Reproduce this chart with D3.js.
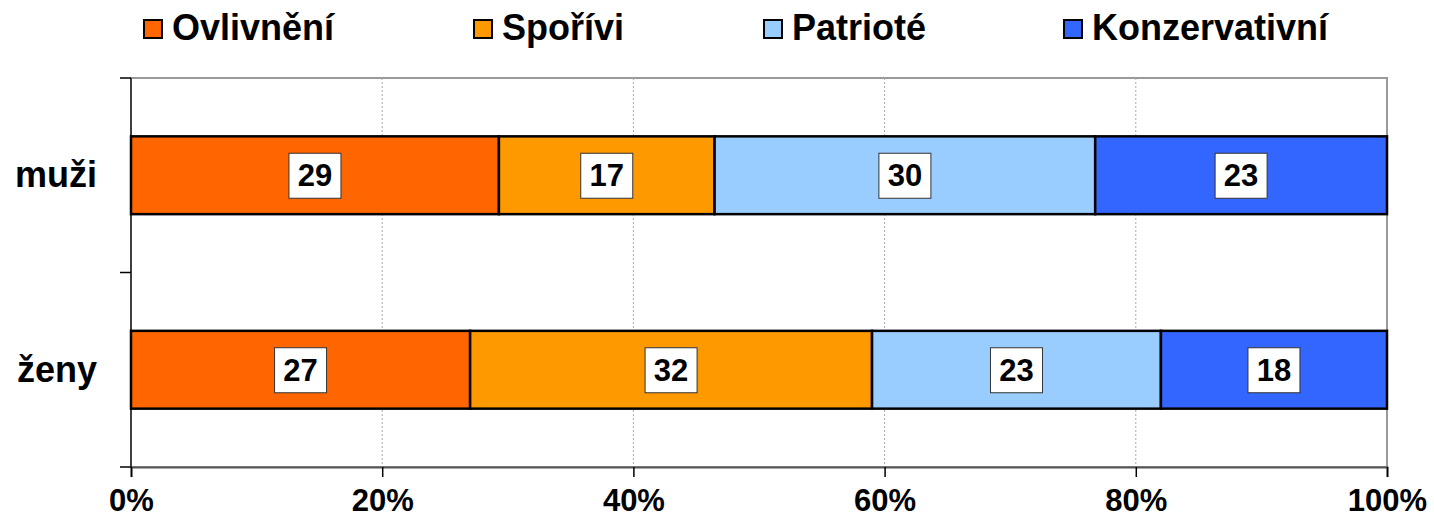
<!DOCTYPE html>
<html><head><meta charset="utf-8">
<script src="https://cdn.jsdelivr.net/npm/d3@7"></script>
<style>body{margin:0;background:#fff}svg{display:block}text{font-family:"Liberation Sans",Arial,sans-serif;font-weight:bold}</style>
</head><body><svg id="c" width="1434" height="520"></svg>
<script>
const categories = ["muži", "ženy"];
const seriesNames = ["Ovlivnění", "Spořívi", "Patrioté", "Konzervativní"];
const seriesColors = ["#FF6600", "#FF9900", "#99CCFF", "#3366FF"];
const ovlivneni = [29, 27];
const sporivi = [17, 32];
const patriote = [30, 23];
const konzervativni = [23, 18];
const tickValues = [0, 0.2, 0.4, 0.6, 0.8, 1];

const seriesValues = [ovlivneni, sporivi, patriote, konzervativni];
const rows = categories.map((c, i) => {
  const r = {cat: c};
  seriesNames.forEach((n, j) => r[n] = seriesValues[j][i]);
  return r;
});
const stacked = d3.stack().keys(seriesNames).offset(d3.stackOffsetExpand)(rows);

const svg = d3.select("#c");
const L = 131, R = 1387, T = 78, B = 467;
const x = d3.scaleLinear().domain([0, 1]).range([L, R]);
const y = d3.scaleBand().domain(categories).range([T, B]).paddingInner(0.6).paddingOuter(0.3);

// plot border
svg.append("rect").attr("x", L).attr("y", T).attr("width", R - L).attr("height", B - T)
  .attr("fill", "#fff").attr("stroke", "#999").attr("stroke-width", 2);
// gridlines
svg.append("g").selectAll("line").data(tickValues.slice(1, -1)).join("line")
  .attr("x1", d => x(d)).attr("x2", d => x(d)).attr("y1", T).attr("y2", B)
  .attr("stroke", "#aaa").attr("stroke-width", 1).attr("stroke-dasharray", "2,2");

// x axis
const xAxis = d3.axisBottom(x).tickValues(tickValues).tickFormat(d3.format(".0%")).tickSize(10).tickPadding(12);
const gx = svg.append("g").attr("transform", `translate(0,${B})`).call(xAxis);
gx.select(".domain").attr("stroke", "#555").attr("stroke-width", 2);
gx.selectAll(".tick line").attr("stroke", "#000").attr("stroke-width", 1.5);
gx.selectAll(".tick text").attr("font-size", 31).attr("fill", "#000")
  .attr("font-family", "Liberation Sans, Arial, sans-serif").attr("font-weight", "bold");

// y axis
const yTicks = [T, (T + B) / 2, B];
svg.append("line").attr("x1", L).attr("x2", L).attr("y1", T).attr("y2", B).attr("stroke", "#222").attr("stroke-width", 1.5);
svg.append("g").selectAll("line").data(yTicks).join("line")
  .attr("x1", L - 11).attr("x2", L).attr("y1", d => d).attr("y2", d => d).attr("stroke", "#000").attr("stroke-width", 1.5);
svg.append("g").selectAll("text").data(categories).join("text")
  .attr("x", 97).attr("y", d => y(d) + y.bandwidth() / 2).attr("dy", "0.34em")
  .attr("text-anchor", "end").attr("font-size", 36).text(d => d);

// bars
const g = svg.append("g");
stacked.forEach((s, j) => {
  g.append("g").selectAll("rect").data(s).join("rect")
    .attr("x", d => x(d[0])).attr("width", d => x(d[1]) - x(d[0]))
    .attr("y", d => y(d.data.cat)).attr("height", y.bandwidth())
    .attr("fill", seriesColors[j]).attr("stroke", "#000").attr("stroke-width", 2.5);
});
// labels
stacked.forEach((s, j) => {
  const lg = svg.append("g").selectAll("g").data(s).join("g")
    .attr("transform", d => `translate(${(x(d[0]) + x(d[1])) / 2},${y(d.data.cat) + y.bandwidth() / 2})`);
  lg.append("rect").attr("x", -26).attr("y", -22).attr("width", 52).attr("height", 45)
    .attr("fill", "#fff").attr("stroke", "#333").attr("stroke-width", 1);
  lg.append("text").attr("text-anchor", "middle").attr("dy", "0.36em").attr("font-size", 31)
    .text(d => d.data[seriesNames[j]]);
});

// legend
const legX = [144, 474, 764, 1064];
const leg = svg.append("g").selectAll("g").data(seriesNames).join("g")
  .attr("transform", (d, i) => `translate(${legX[i]},0)`);
leg.append("rect").attr("x", 0).attr("y", 20).attr("width", 18).attr("height", 18).attr("fill", (d, i) => seriesColors[i])
  .attr("stroke", "#000").attr("stroke-width", 2);
leg.append("text").attr("x", 28).attr("y", 40).attr("font-size", 36).text(d => d);
</script></body></html>
